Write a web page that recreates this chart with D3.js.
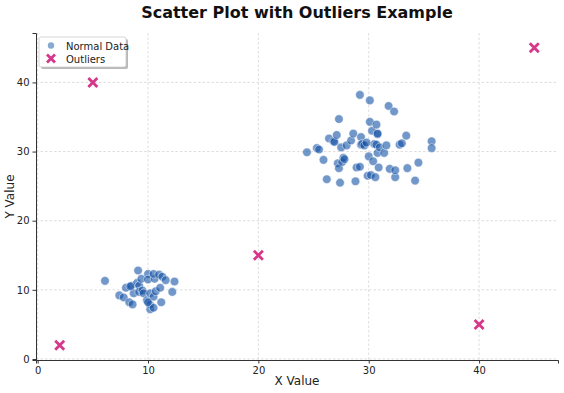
<!DOCTYPE html>
<html>
<head>
<meta charset="utf-8">
<script src="https://cdn.jsdelivr.net/npm/d3@7"></script>
<style>
  body { margin: 0; background: #fff; }
  svg { font-family: "DejaVu Sans", sans-serif; }
</style>
</head>
<body>
<div id="chart"></div>
<script>
// normal data
const normalX = [6.1, 7.4, 7.8, 8.0, 8.3, 8.5, 8.6, 8.7, 9.0, 9.1, 9.2, 9.2, 9.4, 9.5, 9.6, 9.9,
  10.0, 10.0, 10.2, 10.2, 10.2, 10.5, 10.5, 10.6, 10.5, 10.7, 11.0, 11.1, 11.2, 11.3, 11.6, 12.2, 12.4, 10.0, 8.4,
  24.4, 25.3, 25.5, 25.9, 26.2, 26.4, 26.8, 26.9, 27.1, 27.2, 27.3, 27.3, 27.4, 27.5, 27.6, 27.7,
  27.8, 28.0, 28.4, 28.6, 28.8, 28.9, 29.2, 29.2, 29.3, 29.3, 29.4, 29.6, 29.9, 30.0, 30.1, 30.1,
  30.2, 30.3, 30.4, 30.5, 30.6, 30.7, 30.7, 30.8, 30.8, 30.8, 30.9, 31.0, 31.4, 31.6, 31.8, 31.9,
  32.3, 32.4, 32.4, 32.8, 33.0, 33.4, 33.5, 34.2, 34.5, 35.7, 35.7, 29.8];
const normalY = [11.3, 9.2, 8.9, 10.3, 8.2, 10.6, 7.9, 9.5, 11.0, 12.8, 10.6, 9.7, 11.6, 9.9, 9.5, 8.5,
  12.3, 11.5, 9.5, 7.2, 7.85, 7.4, 9.0, 11.6, 12.3, 9.8, 12.2, 10.3, 8.2, 11.9, 11.4, 9.7, 11.2, 8.2, 10.5,
  29.9, 30.5, 30.3, 28.8, 26.0, 31.9, 31.5, 31.4, 32.4, 28.3, 34.7, 27.6, 25.5, 30.6, 28.5, 29.1,
  28.9, 30.9, 31.6, 32.6, 25.7, 27.7, 27.8, 38.2, 32.1, 31.0, 31.1, 30.9, 26.5, 29.3, 34.3, 37.4,
  26.6, 33.0, 28.6, 31.1, 26.3, 33.9, 31.0, 32.5, 32.6, 29.8, 27.7, 30.6, 29.8, 30.9, 36.6, 27.5,
  35.8, 26.3, 27.3, 31.0, 31.2, 32.3, 27.6, 25.8, 28.4, 31.5, 30.5, 31.3];

const outlierX = [2, 5, 20, 40, 45];
const outlierY = [2, 40, 15, 5, 45];

const xTicks = [0, 10, 20, 30, 40];
const yTicks = [0, 10, 20, 30, 40];

const W = 564, H = 393;
const margin = { top: 33, right: 6, bottom: 33, left: 36 };

const svg = d3.select("#chart").append("svg")
  .attr("width", W).attr("height", H);

// matplotlib style auto limits: 5% padding on data range
const lo = -0.15, hi = 47.15;
const x = d3.scaleLinear().domain([lo, hi]).range([margin.left, W - margin.right]);
const y = d3.scaleLinear().domain([lo, hi]).range([H - margin.bottom, margin.top]);

// grid
const grid = svg.append("g");
grid.selectAll(".gx").data(xTicks).enter().append("line")
  .attr("x1", d => x(d)).attr("x2", d => x(d))
  .attr("y1", margin.top).attr("y2", H - margin.bottom)
  .attr("stroke", "#ddd").attr("stroke-dasharray", "2.5,2");
grid.selectAll(".gy").data(yTicks).enter().append("line")
  .attr("x1", margin.left).attr("x2", W - margin.right)
  .attr("y1", d => y(d)).attr("y2", d => y(d))
  .attr("stroke", "#ddd").attr("stroke-dasharray", "2.5,2");

// axes
const xAxis = svg.append("g")
  .attr("transform", `translate(0,${H - margin.bottom})`)
  .call(d3.axisBottom(x).tickValues(xTicks).tickSize(3.5).tickPadding(3));
const yAxis = svg.append("g")
  .attr("transform", `translate(${margin.left},0)`)
  .call(d3.axisLeft(y).tickValues(yTicks).tickSize(3.5).tickPadding(3));
[xAxis, yAxis].forEach(a => {
  a.select(".domain").attr("stroke", "#333").attr("stroke-width", 1);
  a.selectAll(".tick line").attr("stroke", "#333");
  a.selectAll("text").attr("font-size", "10px").attr("fill", "#222")
    .attr("font-family", "DejaVu Sans, sans-serif");
});

// normal points
const pts = normalX.map((d, i) => [d, normalY[i]]);
svg.append("g").selectAll("circle").data(pts).enter().append("circle")
  .attr("cx", d => x(d[0])).attr("cy", d => y(d[1]))
  .attr("r", 4.3)
  .attr("fill", "rgb(20,82,165)").attr("fill-opacity", 0.6)
  .attr("stroke", "#fff").attr("stroke-width", 0.6).attr("stroke-opacity", 0.8);

// outliers
const outColor = "#d6378a";
const cross = (g, cx, cy, s) => {
  g.append("path")
    .attr("d", `M${cx - s},${cy - s}L${cx + s},${cy + s}M${cx - s},${cy + s}L${cx + s},${cy - s}`)
    .attr("stroke", outColor).attr("stroke-width", 2.8).attr("fill", "none");
};
const outG = svg.append("g");
outlierX.forEach((d, i) => cross(outG, x(d), y(outlierY[i]), 4.5));

// title and labels
svg.append("text").attr("x", (margin.left + W - margin.right) / 2).attr("y", 18)
  .attr("text-anchor", "middle").attr("font-size", "16px").attr("font-weight", "bold")
  .attr("fill", "#111").text("Scatter Plot with Outliers Example");
svg.append("text").attr("x", (margin.left + W - margin.right) / 2).attr("y", 385)
  .attr("text-anchor", "middle").attr("font-size", "12px").attr("fill", "#222").text("X Value");
svg.append("text").attr("transform", `translate(14,${(margin.top + H - margin.bottom) / 2}) rotate(-90)`)
  .attr("text-anchor", "middle").attr("font-size", "12px").attr("fill", "#222").text("Y Value");

// legend
const lg = svg.append("g").attr("transform", "translate(39,37)");
lg.append("rect").attr("x", 2).attr("y", 2).attr("width", 87).attr("height", 30)
  .attr("rx", 2).attr("fill", "#888").attr("fill-opacity", 0.6);
lg.append("rect").attr("x", 0).attr("y", 0).attr("width", 87).attr("height", 30)
  .attr("rx", 2).attr("fill", "#fff").attr("stroke", "#ccc").attr("stroke-width", 0.8);
lg.append("circle").attr("cx", 12).attr("cy", 8.5).attr("r", 3.2)
  .attr("fill", "rgb(20,82,165)").attr("fill-opacity", 0.5);
cross(lg, 12, 21.5, 4);
lg.append("text").attr("x", 27).attr("y", 12.5).attr("font-size", "10px").attr("fill", "#222").text("Normal Data");
lg.append("text").attr("x", 27).attr("y", 25.5).attr("font-size", "10px").attr("fill", "#222").text("Outliers");
</script>
</body>
</html>
